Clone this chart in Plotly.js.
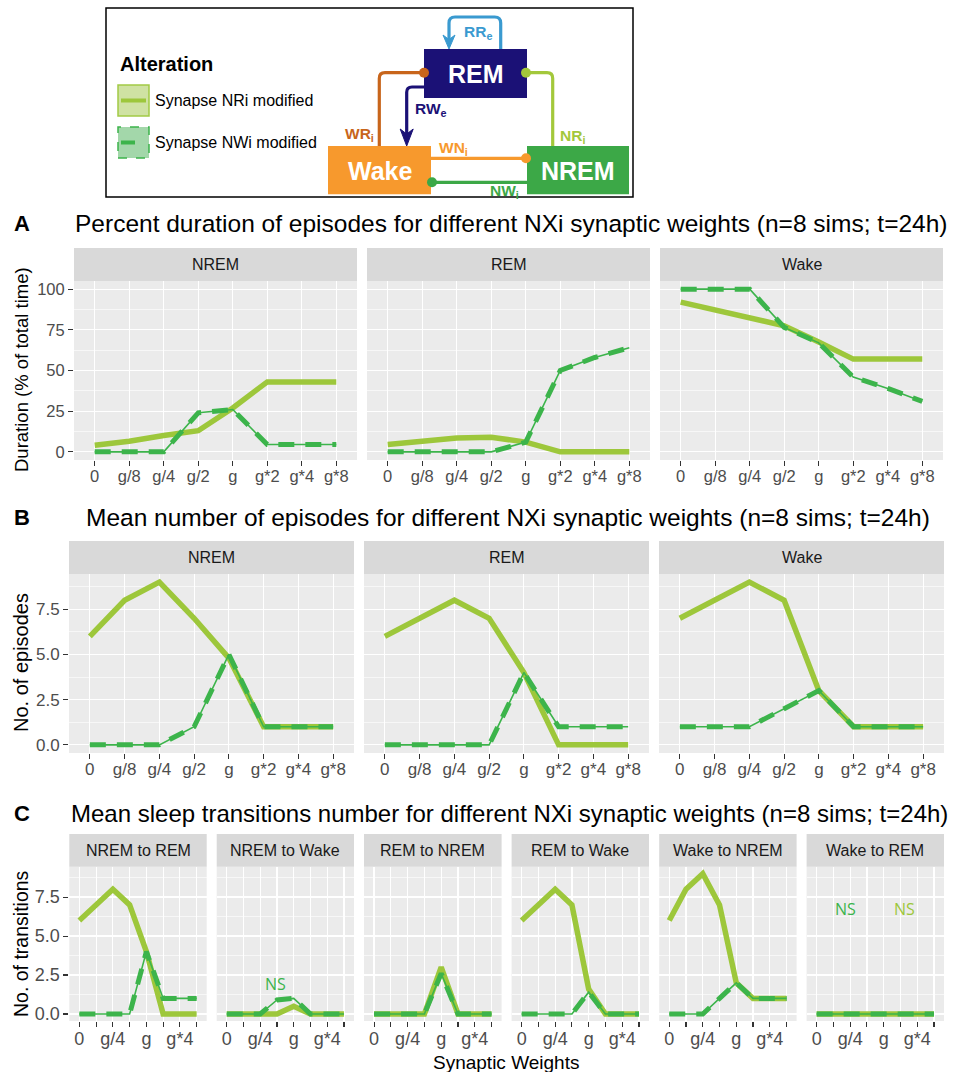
<!DOCTYPE html>
<html><head><meta charset="utf-8">
<script src="https://cdn.plot.ly/plotly-3.0.1.min.js"></script>
<style>html,body{margin:0;padding:0;background:#fff}#chart{width:954px;height:1072px}</style>
</head><body><div id="chart"></div>
<script>
// ---------- DATA ----------
const categories = ["0","g/8","g/4","g/2","g","g*2","g*4","g*8"];
const labelsC = ["0","","g/4","","g","","g*4",""];
const seriesNames = ["Synapse NRi modified","Synapse NWi modified"];

// Panel A: percent duration (% of total time)
const durNREM_NRi = [4, 6.5, 10, 13, 27, 43, 43, 43];
const durNREM_NWi = [0, 0, 0, 24, 26, 4.5, 4.5, 4.5];
const durREM_NRi  = [4.5, 6.5, 8.5, 9, 6, 0, 0, 0];
const durREM_NWi  = [0, 0, 0, 0, 6, 50, 58, 64];
const durWake_NRi = [92, 87, 82, 77.5, 67.5, 57, 57, 57];
const durWake_NWi = [100, 100, 100, 76.5, 67, 46, 39, 31];

// Panel B: mean number of episodes
const epiNREM_NRi = [6, 8, 9, 7, 4.8, 1, 1, 1];
const epiNREM_NWi = [0, 0, 0, 1, 5, 1, 1, 1];
const epiREM_NRi  = [6, 7, 8, 7, 4, 0, 0, 0];
const epiREM_NWi  = [0, 0, 0, 0, 4, 1, 1, 1];
const epiWake_NRi = [7, 8, 9, 8, 3, 1, 1, 1];
const epiWake_NWi = [1, 1, 1, 2, 3, 1, 1, 1];

// Panel C: mean sleep transitions
const trNREMtoREM_NRi  = [6, 7, 8, 7, 4, 0, 0, 0];
const trNREMtoREM_NWi  = [0, 0, 0, 0, 4, 1, 1, 1];
const trNREMtoWake_NRi = [0, 0, 0, 0, 0.5, 0, 0, 0];
const trNREMtoWake_NWi = [0, 0, 0, 0.9, 1, 0, 0, 0];
const trREMtoNREM_NRi  = [0, 0, 0, 0, 3, 0, 0, 0];
const trREMtoNREM_NWi  = [0, 0, 0, 0, 2.6, 0, 0, 0];
const trREMtoWake_NRi  = [6, 7, 8, 7, 1.6, 0, 0, 0];
const trREMtoWake_NWi  = [0, 0, 0, 0, 1.4, 0, 0, 0];
const trWaketoNREM_NRi = [6, 8, 9, 7, 2, 1, 1, 1];
const trWaketoNREM_NWi = [0, 0, 0, 1, 2, 1, 1, 1];
const trWaketoREM_NRi  = [0, 0, 0, 0, 0, 0, 0, 0];
const trWaketoREM_NWi  = [0, 0, 0, 0, 0, 0, 0, 0];

const yTicksA = [0, 25, 50, 75, 100];
const yTicksBC = [0, 2.5, 5, 7.5];
const yTextBC = ["0.0", "2.5", "5.0", "7.5"];

// ---------- LAYOUT HELPERS ----------
const W = 954, H = 1072;
const px = x => x / W, py = y => 1 - y / H;
const P = (x, y) => px(x) + ' ' + py(y);
const SOLID = '#9DC73B', DASHC = '#3CB44B';
const FONT = 'Liberation Sans, Arial, sans-serif';

const rows = {
  A: {plot: [281, 460], strip: [248, 281], range: [-5, 105], tv: yTicksA, tt: yTicksA.map(String), minor: 12.5, tickfont: 16.5, labels: categories},
  B: {plot: [574, 753], strip: [541, 574], range: [-0.45, 9.45], tv: yTicksBC, tt: yTextBC, minor: 1.25, tickfont: 17, labels: categories},
  C: {plot: [866.7, 1021], strip: [834, 866.7], range: [-0.45, 9.45], tv: yTicksBC, tt: yTextBC, minor: 1.25, tickfont: 18, labels: labelsC}
};

const panels = [
  {row: 'A', first: true,  x: [74, 357],  strip: 'NREM', nri: durNREM_NRi, nwi: durNREM_NWi},
  {row: 'A', first: false, x: [367, 650], strip: 'REM',  nri: durREM_NRi,  nwi: durREM_NWi},
  {row: 'A', first: false, x: [660, 943], strip: 'Wake', nri: durWake_NRi, nwi: durWake_NWi},
  {row: 'B', first: true,  x: [69, 354],  strip: 'NREM', nri: epiNREM_NRi, nwi: epiNREM_NWi},
  {row: 'B', first: false, x: [364, 649], strip: 'REM',  nri: epiREM_NRi,  nwi: epiREM_NWi},
  {row: 'B', first: false, x: [659, 944], strip: 'Wake', nri: epiWake_NRi, nwi: epiWake_NWi},
  {row: 'C', first: true,  x: [69.3, 206.7],  strip: 'NREM to REM',  nri: trNREMtoREM_NRi,  nwi: trNREMtoREM_NWi},
  {row: 'C', first: false, x: [216.7, 354],   strip: 'NREM to Wake', nri: trNREMtoWake_NRi, nwi: trNREMtoWake_NWi},
  {row: 'C', first: false, x: [364, 501.6],   strip: 'REM to NREM',  nri: trREMtoNREM_NRi,  nwi: trREMtoNREM_NWi},
  {row: 'C', first: false, x: [511.6, 649],   strip: 'REM to Wake',  nri: trREMtoWake_NRi,  nwi: trREMtoWake_NWi},
  {row: 'C', first: false, x: [659.2, 796.6], strip: 'Wake to NREM', nri: trWaketoNREM_NRi, nwi: trWaketoNREM_NWi},
  {row: 'C', first: false, x: [806.6, 944],   strip: 'Wake to REM',  nri: trWaketoREM_NRi,  nwi: trWaketoREM_NWi}
];

const traces = [], shapes = [], annotations = [];
const layout = {
  width: W, height: H, margin: {l: 0, r: 0, t: 0, b: 0},
  paper_bgcolor: '#FFFFFF', plot_bgcolor: '#EBEBEB',
  showlegend: false, font: {family: FONT, color: '#4D4D4D'},
  shapes: shapes, annotations: annotations
};

panels.forEach((p, i) => {
  const n = i + 1, s = n === 1 ? '' : String(n);
  const xa = 'x' + s, ya = 'y' + s;
  const r = rows[p.row];
  traces.push({x: categories, y: p.nri, xaxis: xa, yaxis: ya, mode: 'lines', name: seriesNames[0],
    line: {color: SOLID, width: 5.5}, hoverinfo: 'skip'});
  traces.push({x: categories, y: p.nwi, xaxis: xa, yaxis: ya, mode: 'lines', name: seriesNames[1],
    line: {color: DASHC, width: 1.6}, hoverinfo: 'skip'});
  traces.push({x: categories, y: p.nwi, xaxis: xa, yaxis: ya, mode: 'lines', name: seriesNames[1],
    line: {color: DASHC, width: 5, dash: '16px,11px'}, hoverinfo: 'skip'});
  layout['xaxis' + s] = {
    domain: [px(p.x[0]), px(p.x[1])], anchor: ya, type: 'category', range: [-0.6, 7.6],
    tickmode: 'array', tickvals: categories, ticktext: r.labels,
    showgrid: true, gridcolor: '#FFFFFF', gridwidth: 1.2, zeroline: false, showline: false,
    ticks: 'outside', ticklen: 5, tickwidth: 1.1, tickcolor: '#333333', ticklabelstandoff: -4,
    tickfont: {family: FONT, size: r.tickfont, color: '#4D4D4D'}, automargin: false, fixedrange: true
  };
  layout['yaxis' + s] = {
    domain: [py(r.plot[1]), py(r.plot[0])], anchor: xa, range: r.range,
    tickmode: 'array', tickvals: r.tv, ticktext: r.tt, showticklabels: p.first,
    showgrid: true, gridcolor: '#FFFFFF', gridwidth: 1.2, zeroline: false, showline: false,
    ticks: p.first ? 'outside' : '', ticklen: 5, tickwidth: 1.1, tickcolor: '#333333',
    tickfont: {family: FONT, size: r.tickfont, color: '#4D4D4D'},
    minor: {dtick: r.minor, tick0: 0, showgrid: true, gridcolor: '#FFFFFF', gridwidth: 0.6, ticks: ''},
    automargin: false, fixedrange: true
  };
  // strip
  shapes.push({type: 'rect', xref: 'paper', yref: 'paper', layer: 'below',
    x0: px(p.x[0]), x1: px(p.x[1]), y0: py(r.strip[1]), y1: py(r.strip[0]),
    fillcolor: '#D9D9D9', line: {width: 0}});
  annotations.push({xref: 'paper', yref: 'paper', x: px((p.x[0] + p.x[1]) / 2), y: py((r.strip[0] + r.strip[1]) / 2),
    text: p.strip, showarrow: false, xanchor: 'center', yanchor: 'middle',
    font: {family: FONT, size: 16, color: '#1A1A1A'}});
});

// ---------- TITLES ----------
function txt(x, y, t, size, opts) {
  annotations.push(Object.assign({xref: 'paper', yref: 'paper', x: px(x), y: py(y), text: t, showarrow: false,
    xanchor: 'center', yanchor: 'middle', font: {family: FONT, size: size, color: '#000000'}}, opts || {}));
}
txt(12, 224, '<b>A</b>', 22, {xanchor: 'left'});
txt(511, 224, 'Percent duration of episodes for different NXi synaptic weights (n=8 sims; t=24h)', 24.5);
txt(12, 518, '<b>B</b>', 22, {xanchor: 'left'});
txt(508, 518, 'Mean number of episodes for different NXi synaptic weights (n=8 sims; t=24h)', 24.5);
txt(12, 813, '<b>C</b>', 22, {xanchor: 'left'});
txt(509, 813, 'Mean sleep transitions number for different NXi synaptic weights (n=8 sims; t=24h)', 24);
txt(21, 370, 'Duration (% of total time)', 18.5, {textangle: -90});
txt(21, 663, 'No. of episodes', 20, {textangle: -90});
txt(21, 944, 'No. of transitions', 19.5, {textangle: -90});
txt(506, 1062, 'Synaptic Weights', 19);

// NS labels (data coords)
annotations.push({xref: 'x8', yref: 'y8', x: 2.94, y: 1.9, text: 'NS', showarrow: false,
  font: {family: 'Open Sans, sans-serif', size: 16, color: DASHC}});
annotations.push({xref: 'x12', yref: 'y12', x: 1.74, y: 6.73, text: 'NS', showarrow: false,
  font: {family: 'Open Sans, sans-serif', size: 16, color: DASHC}});
annotations.push({xref: 'x12', yref: 'y12', x: 5.26, y: 6.73, text: 'NS', showarrow: false,
  font: {family: 'Open Sans, sans-serif', size: 16, color: SOLID}});

// ---------- DIAGRAM ----------
function rect(x0, y0, x1, y1, fill, line) {
  shapes.push({type: 'rect', xref: 'paper', yref: 'paper', x0: px(x0), x1: px(x1), y0: py(y1), y1: py(y0),
    fillcolor: fill, line: line || {width: 0}});
}
function path(d, color, width, fill) {
  shapes.push({type: 'path', xref: 'paper', yref: 'paper', path: d,
    line: {color: color, width: width}, fillcolor: fill || 'rgba(0,0,0,0)'});
}
function dot(x, y, r, color) {
  shapes.push({type: 'circle', xref: 'paper', yref: 'paper', x0: px(x - r), x1: px(x + r), y0: py(y + r), y1: py(y - r),
    fillcolor: color, line: {width: 0}});
}
rect(106, 8, 633, 197, 'rgba(0,0,0,0)', {color: '#000000', width: 1.5});
// legend keys
rect(118, 85, 149, 116, '#CFE2A3', {color: '#A2CA45', width: 1.5});
path('M ' + P(121, 100.5) + ' L ' + P(146, 100.5), SOLID, 4);
rect(118, 127, 149, 158, '#A3D7AA', {color: '#3CB44B', width: 1.5, dash: 'dash'});
path('M ' + P(121, 142.5) + ' L ' + P(135, 142.5), DASHC, 4);
txt(118, 64, '<b>Alteration</b>', 20, {xanchor: 'left'});
txt(153, 100.5, 'Synapse NRi modified', 16, {xanchor: 'left'});
txt(153, 142.5, 'Synapse NWi modified', 16, {xanchor: 'left'});

const NAVY = '#1B1176', ORANGE = '#F7992D', GREEN = '#3CA847', BROWN = '#C8651B', BLUE = '#3A9AD0', LIME = '#A3C83B';
// connectors
path('M ' + P(500.7, 49) + ' L ' + P(500.7, 23) + ' Q ' + P(500.7, 17) + ' ' + P(494.7, 17) +
     ' L ' + P(455, 17) + ' Q ' + P(449, 17) + ' ' + P(449, 23) + ' L ' + P(449, 40), BLUE, 3.2);
path('M ' + P(443, 35) + ' L ' + P(449, 39.5) + ' L ' + P(455, 35) + ' L ' + P(449, 49) + ' Z', BLUE, 1, BLUE);
path('M ' + P(424, 72.7) + ' L ' + P(385, 72.7) + ' Q ' + P(379.3, 72.7) + ' ' + P(379.3, 78.4) + ' L ' + P(379.3, 146), BROWN, 3.2);
path('M ' + P(424, 87) + ' L ' + P(412, 87) + ' Q ' + P(406.7, 87) + ' ' + P(406.7, 92.3) + ' L ' + P(406.7, 136), NAVY, 3.2);
path('M ' + P(400.2, 129) + ' L ' + P(406.7, 134) + ' L ' + P(413.2, 129) + ' L ' + P(406.7, 146) + ' Z', NAVY, 1, NAVY);
path('M ' + P(527, 72.7) + ' L ' + P(547, 72.7) + ' Q ' + P(552.7, 72.7) + ' ' + P(552.7, 78.4) + ' L ' + P(552.7, 146), LIME, 3.2);
path('M ' + P(431, 158.3) + ' L ' + P(527, 158.3), ORANGE, 3.2);
path('M ' + P(527, 182.3) + ' L ' + P(431, 182.3), GREEN, 3.2);
// state boxes
rect(424, 49, 527, 98, NAVY);
rect(328, 146, 431, 194.3, ORANGE);
rect(527, 146, 629, 194.3, GREEN);
dot(424, 72.7, 5, BROWN);
dot(526, 158.3, 5, ORANGE);
dot(432, 182.3, 5, GREEN);
dot(526, 72.7, 5, LIME);
txt(475.5, 74, '<b>REM</b>', 25, {font: {family: FONT, size: 25, color: '#FFFFFF'}});
txt(380, 171, '<b>Wake</b>', 25, {font: {family: FONT, size: 25, color: '#FFFFFF'}});
txt(578, 171, '<b>NREM</b>', 25, {font: {family: FONT, size: 25, color: '#FFFFFF'}});
const lab = (x, y, t, c) => txt(x, y, '<b>' + t + '</b>', 15.5, {font: {family: FONT, size: 15.5, color: c}});
lab(478, 33, 'RR<sub>e</sub>', BLUE);
lab(359, 134, 'WR<sub>i</sub>', BROWN);
lab(431, 109, 'RW<sub>e</sub>', NAVY);
lab(572, 136, 'NR<sub>i</sub>', LIME);
lab(453, 148, 'WN<sub>i</sub>', ORANGE);
lab(504, 191, 'NW<sub>i</sub>', GREEN);

Plotly.newPlot('chart', traces, layout, {staticPlot: true, displayModeBar: false});
</script></body></html>
